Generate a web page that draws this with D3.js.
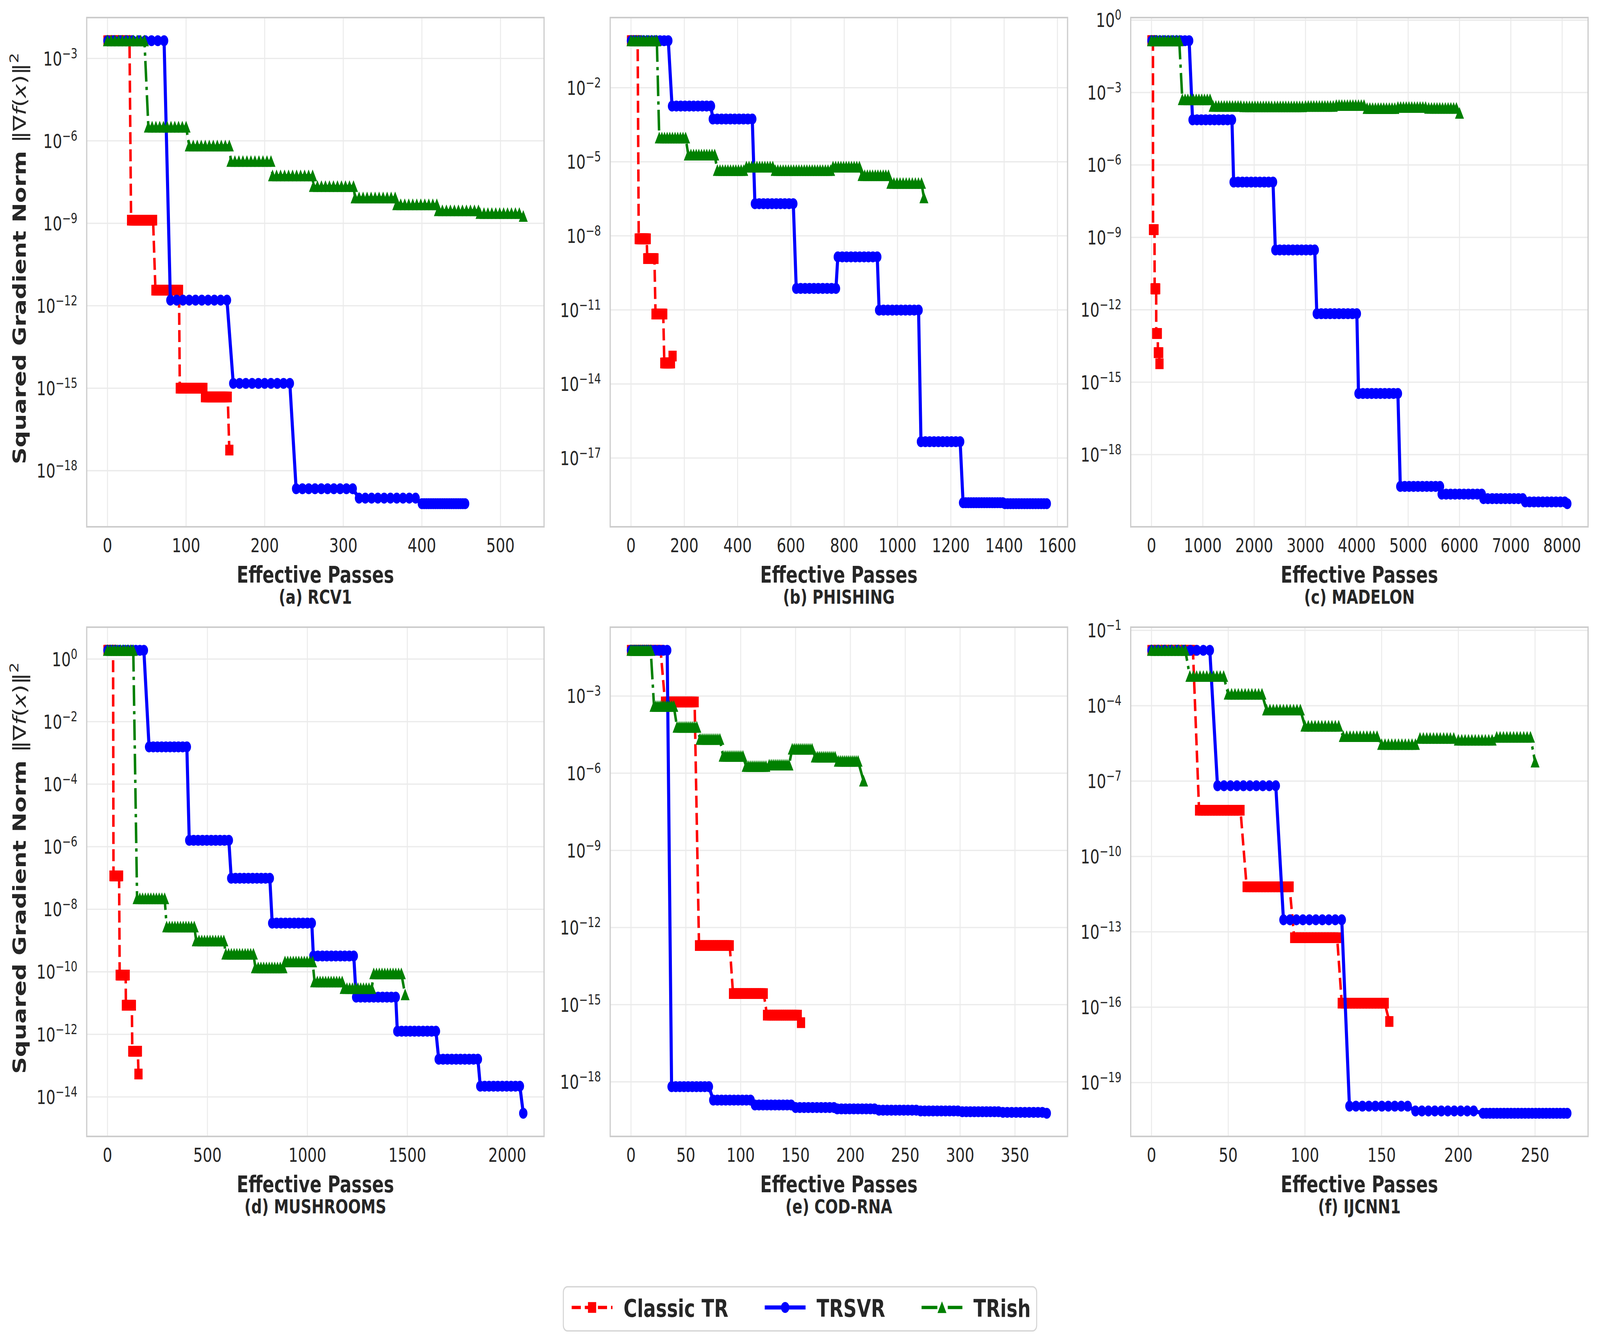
<!DOCTYPE html>
<html>
<head>
<meta charset="utf-8">
<script src="https://d3js.org/d3.v7.min.js"></script>
<style>
  html, body { margin: 0; padding: 0; background: #fff; overflow: hidden; }
  #chart { display: block; width: 100vw; height: 100vh; }
  text { font-family: 'DejaVu Sans', sans-serif; fill: #262626; }
</style>
</head>
<body>
<svg id="chart" viewBox="0 0 5370 3439" preserveAspectRatio="none"></svg>
<script>
// Every step is [first pass, last pass, squared gradient norm, iterations logged in it].
const rcv1ClassicTR = [[0, 28, 4.4e-3, 15], [30, 58, 1.3e-9, 15], [61, 91, 3.7e-12, 15], [92, 122, 1.0e-15, 15], [124, 153, 4.8e-16, 15], [155, 155, 5.6e-18, 1]];
const rcv1TRSVR = [[0, 72, 4.4e-3, 10], [80, 152, 1.6e-12, 10], [160, 232, 1.5e-15, 10], [240, 312, 2.2e-19, 10], [320, 392, 1.0e-19, 10], [400, 455, 6.3e-20, 20]];
const rcv1TRish = [[0, 47, 4.4e-3, 11], [52, 100, 3.2e-6, 11], [104, 155, 6.6e-7, 11], [157, 208, 1.8e-7, 11], [210, 261, 5.4e-8, 11], [262, 313, 2.2e-8, 11], [315, 366, 8.5e-9, 11], [368, 419, 4.8e-9, 11], [421, 472, 2.9e-9, 11], [474, 524, 2.3e-9, 11], [529, 529, 1.8e-9, 1]];

const phishingClassicTR = [[0, 25, 0.8, 13], [29, 59, 7.6e-9, 15], [61, 88, 1.2e-9, 15], [92, 121, 6.8e-12, 15], [125, 150, 7.1e-14, 13], [156, 156, 1.35e-13, 1]];
const phishingTRSVR = [[0, 140, 0.8, 10], [154, 300, 1.8e-3, 10], [307, 455, 5.4e-4, 10], [465, 609, 2.0e-7, 10], [620, 769, 7.4e-11, 10], [776, 924, 1.4e-9, 10], [931, 1079, 9.8e-12, 10], [1088, 1235, 4.6e-17, 10], [1246, 1395, 1.55e-19, 16], [1403, 1560, 1.42e-19, 16]];
const phishingTRish = [[0, 97, 0.8, 11], [106, 205, 9.3e-5, 11], [215, 314, 1.9e-5, 11], [324, 423, 4.5e-6, 11], [433, 532, 6.2e-6, 11], [541, 640, 4.5e-6, 11], [650, 749, 4.5e-6, 11], [758, 857, 6.2e-6, 11], [867, 966, 2.8e-6, 11], [975, 1090, 1.35e-6, 11], [1099, 1099, 3.5e-7, 1]];

const madelonClassicTR = [[0, 28, 0.14, 15], [30, 58, 2.1e-9, 15], [61, 91, 7.4e-12, 15], [92, 122, 1.05e-13, 15], [124, 150, 1.66e-14, 15], [155, 155, 5.8e-15, 1]];
const madelonTRSVR = [[0, 733, 0.14, 10], [800, 1567, 7.4e-5, 10], [1600, 2367, 1.95e-7, 10], [2413, 3180, 3.0e-10, 10], [3220, 4000, 6.9e-13, 10], [4033, 4800, 3.4e-16, 10], [4847, 5620, 4.8e-20, 10], [5653, 6433, 2.3e-20, 10], [6467, 7233, 1.5e-20, 10], [7280, 8050, 1.1e-20, 10], [8100, 8100, 9.3e-21, 1]];
const madelonTRish = [[0, 540, 0.14, 11], [600, 1140, 5.1e-4, 11], [1200, 1740, 2.7e-4, 11], [1800, 2340, 2.6e-4, 11], [2400, 2940, 2.6e-4, 11], [3000, 3540, 2.7e-4, 11], [3600, 4140, 2.95e-4, 11], [4200, 4740, 2.2e-4, 11], [4800, 5340, 2.45e-4, 11], [5400, 5940, 2.25e-4, 11], [6000, 6000, 1.4e-4, 1]];

const mushroomsClassicTR = [[0, 28, 1.9, 15], [30, 58, 1.17e-7, 15], [61, 91, 7.9e-11, 15], [92, 122, 8.5e-12, 15], [124, 152, 2.9e-13, 15], [155, 155, 5.4e-14, 1]];
const mushroomsTRSVR = [[0, 182, 1.9, 10], [208, 397, 1.55e-3, 10], [409, 607, 1.6e-6, 10], [619, 812, 9.8e-8, 10], [824, 1022, 3.6e-9, 10], [1030, 1232, 3.2e-10, 10], [1244, 1442, 1.55e-11, 10], [1450, 1643, 1.26e-12, 10], [1657, 1853, 1.6e-13, 10], [1865, 2063, 2.2e-14, 10], [2080, 2080, 3.0e-15, 1]];
const mushroomsTRish = [[0, 129, 1.9, 11], [148, 286, 2.2e-8, 11], [296, 434, 2.75e-9, 11], [444, 582, 9.8e-10, 11], [592, 730, 3.7e-10, 11], [740, 878, 1.35e-10, 11], [888, 1026, 2.1e-10, 11], [1036, 1174, 4.8e-11, 11], [1184, 1322, 2.95e-11, 11], [1332, 1470, 8.7e-11, 11], [1489, 1489, 1.86e-11, 1]];

const codrnaClassicTR = [[0, 27, 0.06, 15], [31, 58, 5.9e-4, 15], [62, 90, 2.0e-13, 15], [93, 121, 2.7e-15, 15], [124, 152, 3.9e-16, 15], [155, 155, 2.0e-16, 1]];
const codrnaTRSVR = [[0, 33, 0.06, 10], [37, 71, 6.5e-19, 10], [75, 109, 1.95e-19, 10], [113, 146, 1.26e-19, 10], [150, 185, 1.0e-19, 10], [188, 222, 8.9e-20, 10], [226, 260, 7.9e-20, 10], [264, 298, 7.4e-20, 10], [302, 335, 6.9e-20, 10], [339, 375, 6.5e-20, 10], [379, 379, 6.0e-20, 1]];
const codrnaTRish = [[0, 18, 0.06, 11], [21, 39, 4.0e-4, 11], [42, 60, 6.2e-5, 11], [63, 81, 2.1e-5, 11], [84, 102, 4.6e-6, 11], [105, 123, 1.86e-6, 11], [126, 144, 2.1e-6, 11], [147, 165, 8.7e-6, 11], [168, 186, 4.3e-6, 11], [189, 207, 2.95e-6, 11], [212, 212, 5.0e-7, 1]];

const ijcnn1ClassicTR = [[0, 27, 0.016, 15], [31, 58, 6.9e-9, 15], [62, 90, 6.2e-12, 15], [93, 121, 5.8e-14, 15], [124, 152, 1.45e-16, 15], [155, 155, 2.7e-17, 1]];
const ijcnn1TRSVR = [[0, 38, 0.016, 10], [43, 81, 6.5e-8, 10], [86, 124, 3.0e-13, 10], [129, 167, 1.15e-20, 10], [172, 210, 7.4e-21, 10], [216, 271, 6.0e-21, 25]];
const ijcnn1TRish = [[0, 22, 0.016, 11], [25, 47, 1.48e-3, 11], [50, 72, 2.9e-4, 11], [75, 97, 6.8e-5, 11], [100, 122, 1.55e-5, 11], [125, 147, 6.0e-6, 11], [150, 172, 2.9e-6, 11], [175, 197, 5.1e-6, 11], [200, 222, 4.3e-6, 11], [225, 247, 5.6e-6, 11], [250, 250, 5.8e-7, 1]];

// tick labels (y ticks as powers of ten)
const rcv1XTicks = [0, 100, 200, 300, 400, 500];
const rcv1YTicks = [-3, -6, -9, -12, -15, -18];
const phishingXTicks = [0, 200, 400, 600, 800, 1000, 1200, 1400, 1600];
const phishingYTicks = [-2, -5, -8, -11, -14, -17];
const madelonXTicks = [0, 1000, 2000, 3000, 4000, 5000, 6000, 7000, 8000];
const madelonYTicks = [0, -3, -6, -9, -12, -15, -18];
const mushroomsXTicks = [0, 500, 1000, 1500, 2000];
const mushroomsYTicks = [0, -2, -4, -6, -8, -10, -12, -14];
const codrnaXTicks = [0, 50, 100, 150, 200, 250, 300, 350];
const codrnaYTicks = [-3, -6, -9, -12, -15, -18];
const ijcnn1XTicks = [0, 50, 100, 150, 200, 250];
const ijcnn1YTicks = [-1, -4, -7, -10, -13, -16, -19];

const methods = ['Classic TR', 'TRSVR', 'TRish'];
const panelTitles = ['(a) RCV1', '(b) PHISHING', '(c) MADELON', '(d) MUSHROOMS', '(e) COD-RNA', '(f) IJCNN1'];

const panels = [
  { title: panelTitles[0], series: [rcv1ClassicTR, rcv1TRSVR, rcv1TRish], xTicks: rcv1XTicks, yTicks: rcv1YTicks },
  { title: panelTitles[1], series: [phishingClassicTR, phishingTRSVR, phishingTRish], xTicks: phishingXTicks, yTicks: phishingYTicks },
  { title: panelTitles[2], series: [madelonClassicTR, madelonTRSVR, madelonTRish], xTicks: madelonXTicks, yTicks: madelonYTicks },
  { title: panelTitles[3], series: [mushroomsClassicTR, mushroomsTRSVR, mushroomsTRish], xTicks: mushroomsXTicks, yTicks: mushroomsYTicks },
  { title: panelTitles[4], series: [codrnaClassicTR, codrnaTRSVR, codrnaTRish], xTicks: codrnaXTicks, yTicks: codrnaYTicks },
  { title: panelTitles[5], series: [ijcnn1ClassicTR, ijcnn1TRSVR, ijcnn1TRish], xTicks: ijcnn1XTicks, yTicks: ijcnn1YTicks },
];

// styles per method
const styles = [
  { color: '#ff0000', width: 8.3, dash: '30.7 13.3', marker: 'square' },
  { color: '#0000ff', width: 10.4, dash: null, marker: 'circle' },
  { color: '#008000', width: 8.3, dash: '53 13.3 8.3 13.3', marker: 'triangle' },
];

const svg = d3.select('#chart');
svg.append('rect').attr('width', 5370).attr('height', 3439).attr('fill', '#fff');

const colLeft = [291, 2048, 3795];
const rowTop = [45, 1606];
const axW = 1535;
const axH = 1304;

function stepPoints(steps) {
  const pts = [];
  steps.forEach(([x0, x1, v, n]) => {
    for (let i = 0; i < n; i++) {
      pts.push({ x: n === 1 ? x0 : x0 + (x1 - x0) * i / (n - 1), y: v });
    }
  });
  return pts;
}

function markerPath(kind) {
  if (kind === 'square') return 'M-12.5,-12.5H12.5V12.5H-12.5Z';
  if (kind === 'triangle') return 'M0,-13L13,13H-13Z';
  return 'M12.8,0A12.8,12.8 0 1 1 -12.8,0A12.8,12.8 0 1 1 12.8,0Z';
}

panels.forEach((p, k) => {
  const left = colLeft[k % 3];
  const top = rowTop[Math.floor(k / 3)];
  const g = svg.append('g').attr('transform', `translate(${left},${top})`);

  const data = p.series.map(stepPoints);
  const all = data.flat();
  const xMax = d3.max(all, d => d.x);
  const lMin = Math.log10(d3.min(all, d => d.y));
  const lMax = Math.log10(d3.max(all, d => d.y));
  const xPad = xMax * 0.05;
  const lPad = (lMax - lMin) * 0.05;

  const x = d3.scaleLinear().domain([-xPad, xMax + xPad]).range([0, axW]);
  const y = d3.scaleLog().domain([Math.pow(10, lMin - lPad), Math.pow(10, lMax + lPad)]).range([axH, 0]);

  // grid
  g.append('g').selectAll('line').data(p.xTicks).join('line')
    .attr('x1', d => x(d)).attr('x2', d => x(d)).attr('y1', 0).attr('y2', axH)
    .attr('stroke', '#ebebeb').attr('stroke-width', 3.3);
  g.append('g').selectAll('line').data(p.yTicks).join('line')
    .attr('x1', 0).attr('x2', axW).attr('y1', d => y(Math.pow(10, d))).attr('y2', d => y(Math.pow(10, d)))
    .attr('stroke', '#ebebeb').attr('stroke-width', 3.3);

  // tick labels
  g.append('g').selectAll('text').data(p.xTicks).join('text')
    .attr('x', d => x(d)).attr('y', axH + 65)
    .attr('text-anchor', 'middle').attr('font-size', 50)
    .text(d => d);
  const yl = g.append('g').selectAll('text').data(p.yTicks).join('text')
    .attr('x', -31).attr('y', d => y(Math.pow(10, d)) + 18)
    .attr('text-anchor', 'end').attr('font-size', 50);
  yl.append('tspan').text('10');
  yl.append('tspan').attr('font-size', 35).attr('dy', -19)
    .text(d => (d < 0 ? '\u2212' : '') + Math.abs(d));

  // series
  const line = d3.line().x(d => x(d.x)).y(d => y(d.y));
  data.forEach((pts, i) => {
    const st = styles[i];
    const sg = g.append('g');
    sg.append('path').datum(pts)
      .attr('d', line)
      .attr('fill', 'none')
      .attr('stroke', st.color)
      .attr('stroke-width', st.width)
      .attr('stroke-linejoin', 'round')
      .attr('stroke-dasharray', st.dash);
    sg.selectAll('path.m').data(pts).join('path')
      .attr('class', 'm')
      .attr('transform', d => `translate(${x(d.x)},${y(d.y)})`)
      .attr('d', markerPath(st.marker))
      .attr('fill', st.color)
      .attr('stroke', st.color)
      .attr('stroke-width', 2.5);
  });

  // frame
  g.append('rect').attr('width', axW).attr('height', axH)
    .attr('fill', 'none').attr('stroke', '#cccccc').attr('stroke-width', 4);

  // labels
  g.append('text').attr('x', axW / 2).attr('y', axH + 143)
    .attr('text-anchor', 'middle').attr('font-size', 58).attr('font-weight', 'bold')
    .text('Effective Passes');
  g.append('text').attr('x', axW / 2).attr('y', axH + 197)
    .attr('text-anchor', 'middle').attr('font-size', 50).attr('font-weight', 'bold')
    .text(p.title);

  if (k % 3 === 0) {
    const t = g.append('text')
      .attr('transform', `translate(${86 - left},${axH / 2 - 35}) rotate(-90)`)
      .attr('text-anchor', 'middle').attr('font-size', 60);
    t.append('tspan').attr('font-weight', 'bold').text('Squared Gradient Norm ');
    t.append('tspan').text('\u2016\u2207');
    t.append('tspan').attr('font-style', 'italic').text('f');
    t.append('tspan').text('(');
    t.append('tspan').attr('font-style', 'italic').text('x');
    t.append('tspan').text(')\u2016');
    t.append('tspan').attr('font-size', 42).attr('dy', -25).text('2');
  }
});

// legend
const lg = svg.append('g');
const legBox = lg.append('rect')
  .attr('y', 3295).attr('height', 113).attr('rx', 14)
  .attr('fill', '#fff').attr('stroke', '#d5d5d5').attr('stroke-width', 3.5);
let cx = 28;
const items = lg.append('g');
methods.forEach((name, i) => {
  const st = styles[i];
  const it = items.append('g').attr('transform', `translate(${cx},3348)`);
  it.append('line').attr('x1', 0).attr('x2', 137)
    .attr('stroke', st.color).attr('stroke-width', st.width)
    .attr('stroke-dasharray', st.dash);
  it.append('path').attr('transform', 'translate(68.5,0)')
    .attr('d', markerPath(st.marker))
    .attr('fill', st.color).attr('stroke', st.color).attr('stroke-width', 2.5);
  const tx = it.append('text').attr('x', 174).attr('y', 24)
    .attr('font-size', 62).attr('font-weight', 'bold').text(name);
  cx += 174 + tx.node().getComputedTextLength() + 122;
});
const legW = cx - 122 + 20;
const legLeft = 2685 - legW / 2;
items.attr('transform', `translate(${legLeft},0)`);
legBox.attr('x', legLeft).attr('width', legW);
</script>
</body>
</html>
